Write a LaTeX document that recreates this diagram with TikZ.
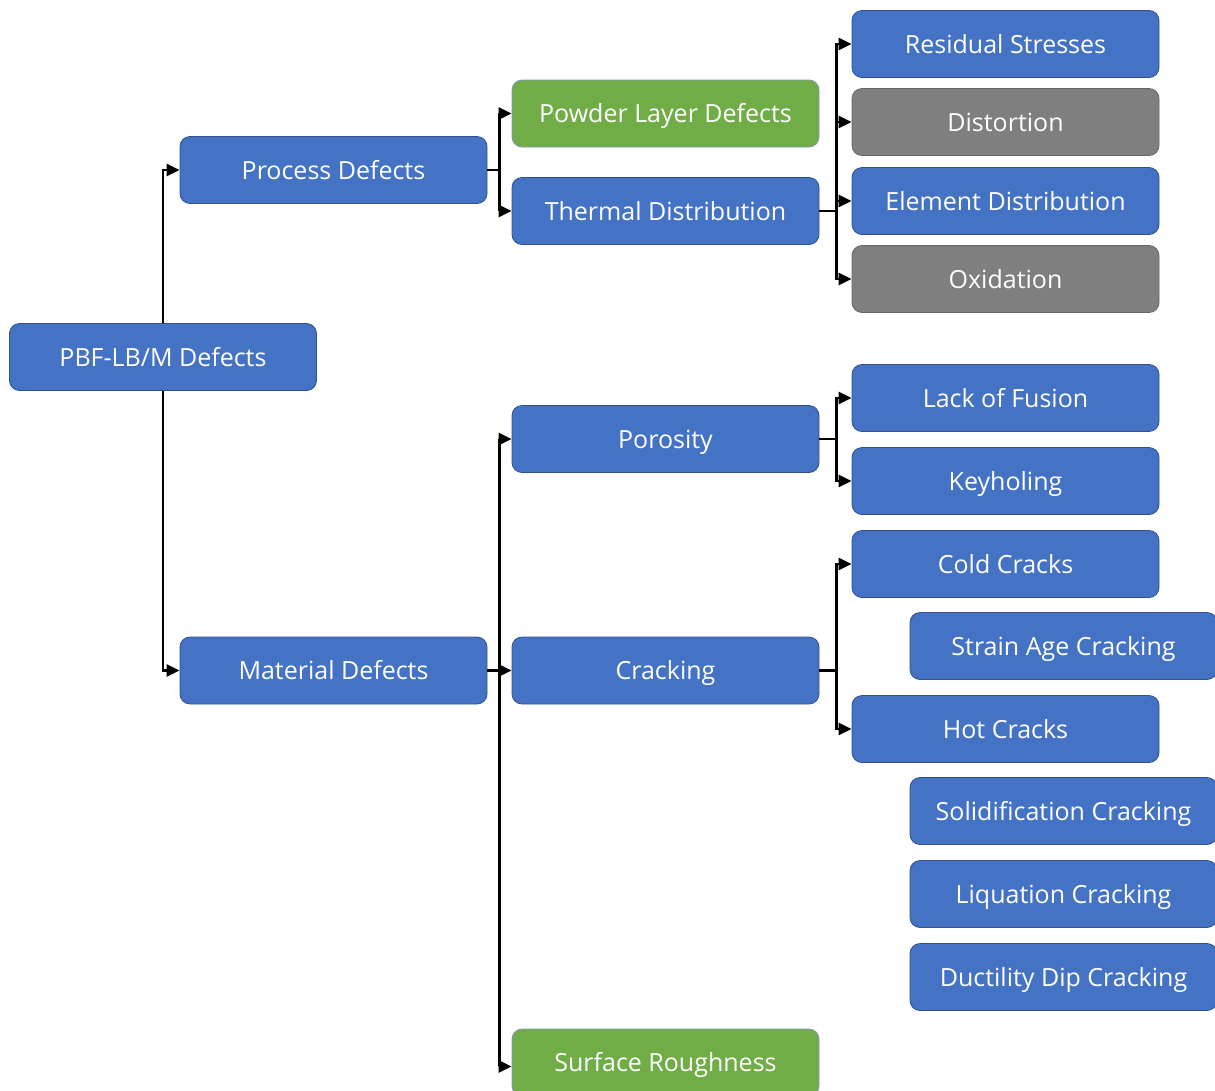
\documentclass[tikz,border=0pt]{standalone}
\usepackage{fontspec}
\setmainfont{Open Sans}
\usetikzlibrary{arrows.meta}
\definecolor{bfill}{HTML}{4472C4}
\definecolor{bdraw}{HTML}{2F528F}
\definecolor{gfill}{HTML}{70AD47}
\definecolor{grfill}{HTML}{7F7F7F}
\tikzset{
  box/.style={draw=bdraw, line width=0.8pt, fill=bfill, rounded corners=10pt,
    minimum width=307pt, minimum height=67pt, inner sep=0pt, text=white,
    font=\fontsize{25}{28}\selectfont, text height=19pt, text depth=1pt},
  gbox/.style={box, fill=gfill, draw=bdraw!60},
  grbox/.style={box, fill=grfill, draw=grfill!80!black},
  arr/.style={line width=2.5pt, -{Triangle[length=13pt,width=12pt]}},
  ln/.style={line width=2.5pt}
}
\begin{document}
\begin{tikzpicture}[x=1pt,y=-1pt]
\useasboundingbox (0,0) rectangle (1215,1090);
\node[box] (pbf) at (163,357) {PBF-LB/M Defects};
\node[box] (proc) at (333.5,170) {Process Defects};
\node[box] (mat) at (333.5,670.5) {Material Defects};
\node[gbox] (powder) at (665.5,113.5) {Powder Layer Defects};
\node[box] (therm) at (665.5,211) {Thermal Distribution};
\node[box] (poro) at (665.5,439) {Porosity};
\node[box] (crack) at (665.5,670.5) {Cracking};
\node[gbox] (surf) at (665.5,1062.5) {Surface Roughness};
\node[box] (resid) at (1005.5,44) {Residual Stresses};
\node[grbox] (dist) at (1005.5,122) {Distortion};
\node[box] (elem) at (1005.5,201) {Element Distribution};
\node[grbox] (oxid) at (1005.5,279) {Oxidation};
\node[box] (lof) at (1005.5,398) {Lack of Fusion};
\node[box] (key) at (1005.5,481) {Keyholing};
\node[box] (cold) at (1005.5,564) {Cold Cracks};
\node[box] (sac) at (1063.5,646) {Strain Age Cracking};
\node[box] (hot) at (1005.5,729) {Hot Cracks};
\node[box] (sol) at (1063.5,811) {Solidification Cracking};
\node[box] (liq) at (1063.5,894) {Liquation Cracking};
\node[box] (ddc) at (1063.5,977) {Ductility Dip Cracking};

\draw[arr] (pbf.north) |- (proc.west);
\draw[arr] (pbf.south) |- (mat.west);

\draw[ln] (proc.east) -- ++(12,0) coordinate (j1);
\draw[arr] (j1) |- (powder.west);
\draw[arr] (j1) |- (therm.west);

\draw[ln] (therm.east) -- ++(17,0) coordinate (j2);
\draw[arr] (j2) |- (resid.west);
\draw[arr] (j2) |- (dist.west);
\draw[arr] (j2) |- (elem.west);
\draw[arr] (j2) |- (oxid.west);

\draw[ln] (mat.east) -- ++(12,0) coordinate (j3);
\draw[arr] (j3) |- (poro.west);
\draw[arr] (j3) |- (crack.west);
\draw[arr] (j3) |- ([yshift=-4pt]surf.west);

\draw[ln] (poro.east) -- ++(17,0) coordinate (j4);
\draw[arr] (j4) |- (lof.west);
\draw[arr] (j4) |- (key.west);

\draw[ln] (crack.east) -- ++(17,0) coordinate (j5);
\draw[arr] (j5) |- (cold.west);
\draw[arr] (j5) |- (hot.west);
\end{tikzpicture}
\end{document}
